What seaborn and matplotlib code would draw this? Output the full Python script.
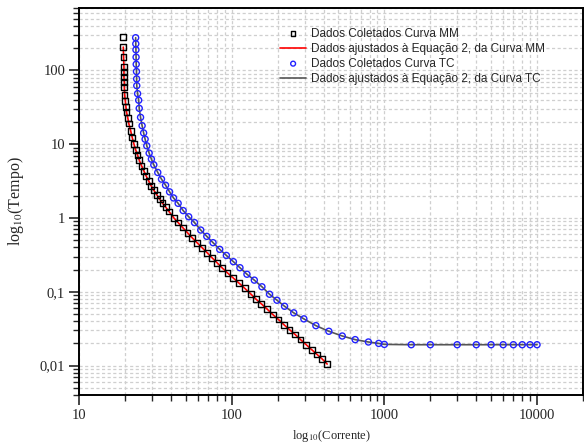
import numpy as np
import pandas as pd
import matplotlib
matplotlib.use("Agg")
import matplotlib.pyplot as plt
import seaborn as sns
from matplotlib.ticker import FixedLocator, FixedFormatter, LogLocator, NullFormatter

# ---- data ----
mm_corrente = [19.5, 19.5, 19.6, 19.7, 19.7, 19.7, 19.8, 19.8, 19.9, 20.1,
               20.3, 20.5, 20.9, 21.2, 21.8, 22.3, 22.9, 23.5, 24.2, 24.8,
               25.7, 26.6, 27.5, 28.6, 29.7, 30.9, 32.4, 33.8, 35.3, 37.0,
               38.9, 42.0, 44.6, 47.8, 51.3, 55.0, 59.3, 64.0, 69.0, 74.3,
               80.2, 86.4, 93.7, 102.0, 111.1, 121.6, 133.1, 143.6, 156.4, 170.1,
               186.2, 202.9, 219.7, 239.4, 260.9, 282.5, 307.7, 334.8, 363.2, 391.5,
               422.2]
mm_tempo = [282.6, 206.7, 151.1, 110.5, 94.5, 80.8, 69.1, 59.1, 46.5, 38.9,
            31.9, 27.0, 22.4, 19.05, 15.2, 12.37, 10.03, 8.39, 7.11, 6.08,
            5.09, 4.35, 3.72, 3.18, 2.72, 2.38, 2.05, 1.80, 1.58, 1.40,
            1.22, 0.99, 0.866, 0.741, 0.633, 0.542, 0.463, 0.396, 0.339, 0.290,
            0.248, 0.212, 0.181, 0.155, 0.1325, 0.1119, 0.0939, 0.0803, 0.0687, 0.0587,
            0.0491, 0.0420, 0.0359, 0.0307, 0.0263, 0.0225, 0.0192, 0.0164, 0.0141, 0.0123,
            0.0105]

tc_corrente = [23.5, 23.55, 23.6, 23.65, 23.7, 23.8, 23.85, 23.9, 24.2, 24.6,
               24.8, 25.3, 25.9, 26.5, 27.1, 27.8, 28.8, 29.8, 30.9, 32.8,
               34.7, 36.9, 39.2, 41.6, 44.6, 48.1, 52.3, 57.1, 62.7, 68.7,
               75.5, 83.5, 92.3, 102.6, 113.3, 125.9, 140.7, 157.8, 177, 198,
               222, 255, 297, 356, 433, 530, 644, 786, 918, 1000,
               1500, 2000, 3000, 4000, 5000, 6000, 7000, 8000, 9000, 10000]
tc_tempo = [277, 229, 190, 151, 121, 96.4, 76.7, 62.1, 48.4, 39.4,
            30.6, 23.1, 17.8, 14.2, 11.7, 9.51, 7.57, 6.28, 5.25, 4.14,
            3.36, 2.78, 2.26, 1.87, 1.58, 1.26, 1.04, 0.866, 0.687, 0.564,
            0.463, 0.376, 0.311, 0.256, 0.212, 0.173, 0.144, 0.117, 0.0927, 0.0769,
            0.0637, 0.0519, 0.0430, 0.0348, 0.0292, 0.0252, 0.0225, 0.0209, 0.0200, 0.0194,
            0.0192, 0.0192, 0.0192, 0.0192, 0.0192, 0.0192, 0.0192, 0.0192, 0.0192, 0.0192]

x_ticks = [10, 100, 1000, 10000]
x_labels = ["10", "100", "1000", "10000"]
y_ticks = [0.01, 0.1, 1, 10, 100]
y_labels = ["0,01", "0,1", "1", "10", "100"]

lab_mm_pts = "Dados Coletados Curva MM"
lab_mm_fit = "Dados ajustados à Equação 2, da Curva MM"
lab_tc_pts = "Dados Coletados Curva TC"
lab_tc_fit = "Dados ajustados à Equação 2, da Curva TC"

mm = pd.DataFrame({"Corrente": mm_corrente, "Tempo": mm_tempo})
tc = pd.DataFrame({"Corrente": tc_corrente, "Tempo": tc_tempo})

sns.set_style("ticks")
plt.rcParams["mathtext.fontset"] = "stix"

fig = plt.figure(figsize=(5.84, 4.45), dpi=100)
ax = fig.add_axes([79/584, 1 - 395/445, 504/584, 387/445])
ax.set_xscale("log")
ax.set_yscale("log")

grid_kw = dict(color="#cfcfcf", linestyle=(0, (2.5, 2)), linewidth=0.9)
ax.grid(True, which="both", **grid_kw)
ax.set_axisbelow(True)

sns.lineplot(data=mm.iloc[1:], x="Corrente", y="Tempo", sort=False, estimator=None,
             color="#ff0000", linewidth=1.2, ax=ax, label=lab_mm_fit, zorder=3)
sns.lineplot(data=tc, x="Corrente", y="Tempo", sort=False, estimator=None,
             color="#555555", linewidth=1.2, ax=ax, label=lab_tc_fit, zorder=3)
sns.scatterplot(data=mm, x="Corrente", y="Tempo", marker="s", s=17,
                facecolor="none", edgecolor="black", linewidth=1.0, ax=ax,
                label=lab_mm_pts, zorder=4)
sns.scatterplot(data=tc, x="Corrente", y="Tempo", marker="o", s=19,
                facecolor="none", edgecolor="#2222ff", linewidth=1.0, ax=ax,
                label=lab_tc_pts, zorder=4)

ax.set_xlim(10, 20000)
ax.set_ylim(0.004, 700)

ax.xaxis.set_major_locator(FixedLocator(x_ticks))
ax.xaxis.set_major_formatter(FixedFormatter(x_labels))
ax.yaxis.set_major_locator(FixedLocator(y_ticks))
ax.yaxis.set_major_formatter(FixedFormatter(y_labels))
ax.xaxis.set_minor_locator(LogLocator(base=10, subs=np.arange(2, 10), numticks=20))
ax.yaxis.set_minor_locator(LogLocator(base=10, subs=np.arange(2, 10), numticks=20))
ax.xaxis.set_minor_formatter(NullFormatter())
ax.yaxis.set_minor_formatter(NullFormatter())

for sp in ax.spines.values():
    sp.set_visible(True)
    sp.set_linewidth(1.4)
    sp.set_color("black")

ax.tick_params(axis="both", which="major", direction="out", length=7, width=1.2,
               labelsize=10.5, top=False, right=False, pad=3)
ax.tick_params(axis="both", which="minor", direction="out", length=4, width=1.0,
               top=False, right=False)
for lbl in ax.get_xticklabels() + ax.get_yticklabels():
    lbl.set_fontfamily("Liberation Serif")

ax.set_xlabel(r"log$_{10}$(Corrente)", fontfamily="Liberation Serif", fontsize=9)
ax.xaxis.set_label_coords(0.5, -0.086)
ax.set_ylabel(r"log$_{10}$(Tempo)", fontfamily="Liberation Serif", fontsize=11.5, labelpad=10)

handles, labels = ax.get_legend_handles_labels()
order = [lab_mm_pts, lab_mm_fit, lab_tc_pts, lab_tc_fit]
hd = dict(zip(labels, handles))
leg = ax.legend([hd[l] for l in order], order, loc="upper left",
                bbox_to_anchor=(0.385, 0.967), frameon=False,
                prop={"family": "Liberation Sans", "size": 8.5},
                handlelength=2.2, handletextpad=0.4, labelspacing=0.25,
                markerscale=0.8, borderaxespad=0.2)

fig.savefig("out.png", dpi=100)
